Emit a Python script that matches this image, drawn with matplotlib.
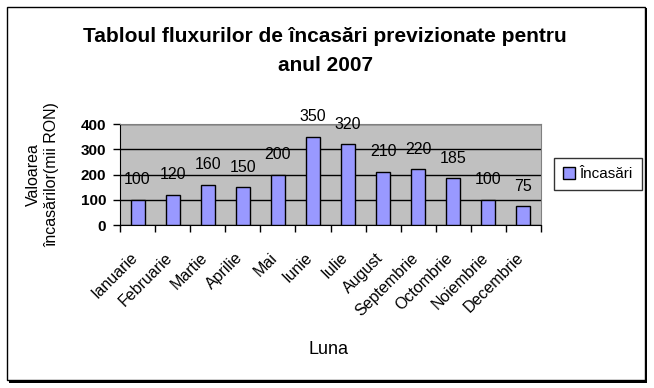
import matplotlib
matplotlib.use("Agg")
import matplotlib.pyplot as plt
from matplotlib.patches import Rectangle, Patch
from matplotlib.transforms import ScaledTranslation
from matplotlib import font_manager as fm

months = ["Ianuarie", "Februarie", "Martie", "Aprilie", "Mai", "Iunie", "Iulie",
          "August", "Septembrie", "Octombrie", "Noiembrie", "Decembrie"]
values = [100, 120, 160, 150, 200, 350, 320, 210, 220, 185, 100, 75]
yticks = [0, 100, 200, 300, 400]
series_name = "Încasări"
title = "Tabloul fluxurilor de încasări previzionate pentru\nanul 2007"

names = {f.name for f in fm.fontManager.ttflist}
narrow = "Liberation Sans Narrow" if "Liberation Sans Narrow" in names else "Liberation Sans"
plt.rcParams['font.family'] = ['Liberation Sans', 'DejaVu Sans']

fig = plt.figure(figsize=(6.54, 3.88), dpi=100)
fig.patch.set_facecolor("white")

# outer border with shadow
fig.patches.append(Rectangle((9/654, 1 - 383/388), 638/654, 375/388, transform=fig.transFigure,
                             facecolor="black", edgecolor="none", zorder=-2))
fig.patches.append(Rectangle((7/654, 1 - 380/388), 638/654, 373/388, transform=fig.transFigure,
                             facecolor="white", edgecolor="black", linewidth=1.0, zorder=-1))

ax = fig.add_axes([120/654, 1 - 225/388, 421/654, 101/388])
ax.set_facecolor("#C0C0C0")
x = list(range(len(months)))
ax.bar(x, values, width=0.4, color="#9999FF", edgecolor="black", linewidth=1.0, zorder=3)
for xi, v in zip(x, values):
    ax.annotate(str(v), (xi, v), xytext=(0, 14.4), textcoords="offset points",
                ha="center", va="center", fontsize=11.5, family=narrow, zorder=4,
                annotation_clip=False)

ax.set_xlim(-0.5, len(months) - 0.5)
ax.set_ylim(0, 400)
ax.set_yticks(yticks)
ax.set_yticklabels([str(t) for t in yticks], fontsize=11, fontweight="bold", family=narrow)
ax.yaxis.grid(True, color="black", linewidth=1.0, zorder=1)
ax.set_axisbelow(True)

ax.set_xticks([i - 0.5 for i in range(len(months) + 1)], minor=False)
ax.set_xticklabels([""] * (len(months) + 1))
ax.set_xticks(x, minor=True)
ax.set_xticklabels(months, minor=True, rotation=45, ha="right", rotation_mode="anchor",
                   fontsize=11.5)
ax.tick_params(axis="x", which="minor", length=0, pad=18)
ax.tick_params(axis="x", which="major", length=5, width=1, direction="out", color="black")
ax.tick_params(axis="y", length=5, width=1, direction="out", pad=5)
shift = ScaledTranslation(-8/100, 0, fig.dpi_scale_trans)
for lbl in ax.get_xticklabels(minor=True):
    lbl.set_transform(lbl.get_transform() + shift)

for s in ["top", "right"]:
    ax.spines[s].set_color("#808080")
for s in ["left", "bottom"]:
    ax.spines[s].set_color("black")

fig.text(325/654, 1 - 51/388, title, ha="center", va="center", fontsize=15,
         fontweight="bold", linespacing=1.7)
fig.text(33/654, 1 - 175/388, "Valoarea", rotation=90, ha="center", va="center", fontsize=11.5)
fig.text(52/654, 1 - 175/388, "încasărilor(mii RON)", rotation=90, ha="center", va="center",
         fontsize=11.5)
fig.text(329/654, 1 - 349/388, "Luna", ha="center", va="center", fontsize=13, family=narrow)

leg = fig.legend(handles=[Patch(facecolor="#9999FF", edgecolor="black", label=series_name)],
                 loc="center", bbox_to_anchor=(598/654, 1 - 174/388), frameon=True,
                 fancybox=False, edgecolor="black", handlelength=0.8,
                 handleheight=0.8, handletextpad=0.3, borderpad=0.6, prop={"family": narrow, "size": 11})
leg.get_frame().set_linewidth(1.0)

fig.savefig("out.png", dpi=100)
